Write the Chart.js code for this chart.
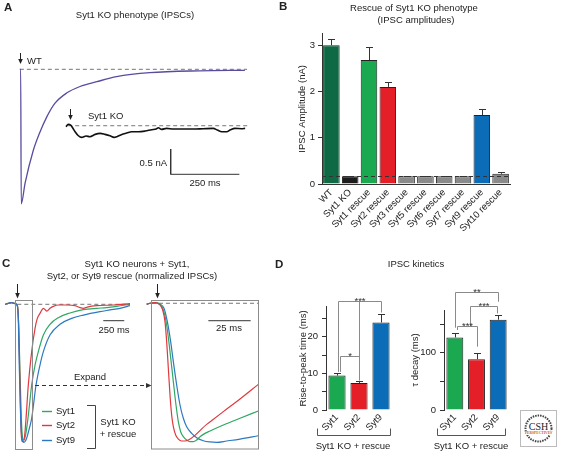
<!DOCTYPE html>
<html>
<head>
<meta charset="utf-8">
<script src="https://cdn.jsdelivr.net/npm/chart.js@4.4.1/dist/chart.umd.min.js"></script>
<style>
  body { margin: 0; background: #fff; }
  #fig { position: relative; width: 561px; height: 452px; overflow: hidden;
         font-family: "Liberation Sans", Arial, sans-serif; color: #222; }
  canvas { position: absolute; }
  .t { position: absolute; font-size: 9.5px; white-space: nowrap; line-height: 1; transform: translate(-50%, -50%); }
  .l { position: absolute; font-size: 9.5px; white-space: nowrap; line-height: 1; transform: translateY(-50%); }
  .r { position: absolute; font-size: 9.5px; white-space: nowrap; line-height: 1; transform: translate(-100%, -50%); }
  .p { position: absolute; font-size: 11.5px; font-weight: bold; line-height: 1; transform: translateY(-50%); }
  svg { position: absolute; left: 0; top: 0; }
</style>
</head>
<body>
<div id="fig">
  <canvas id="cA" width="245" height="175" style="left:10px;top:40px"></canvas>
  <canvas id="cB" width="240" height="207" style="left:280px;top:25px"></canvas>
  <canvas id="cC1" width="140" height="170" style="left:0px;top:280px"></canvas>
  <canvas id="cC2" width="125" height="167" style="left:140px;top:285px"></canvas>
  <canvas id="cD1" width="105" height="150" style="left:290px;top:285px"></canvas>
  <canvas id="cD2" width="107" height="150" style="left:405px;top:285px"></canvas>

  <svg width="561" height="452">
    <g fill="#222" stroke="#222" stroke-width="1">
      <line x1="20.5" y1="53" x2="20.5" y2="60"/><path d="M18.2,59 L22.8,59 L20.5,64 Z" stroke="none"/>
      <line x1="70.5" y1="109" x2="70.5" y2="116"/><path d="M68.2,115 L72.8,115 L70.5,120 Z" stroke="none"/>
      <line x1="17.5" y1="284" x2="17.5" y2="294"/><path d="M15.2,293 L19.8,293 L17.5,298.5 Z" stroke="none"/>
      <line x1="157.5" y1="284" x2="157.5" y2="294"/><path d="M155.2,293 L159.8,293 L157.5,298.5 Z" stroke="none"/>
    </g>
    <rect x="15.5" y="300.5" width="17" height="149" fill="none" stroke="#8c8c8c"/>
    <rect x="151.5" y="300.5" width="107" height="148.5" fill="none" stroke="#8c8c8c"/>
    <line x1="35" y1="385.5" x2="147" y2="385.5" stroke="#333" stroke-dasharray="4,3"/>
    <path d="M146,383 L151.5,385.5 L146,388 Z" fill="#333"/>
    <line x1="42" y1="411.5" x2="52" y2="411.5" stroke="#2fa862" stroke-width="1.4"/>
    <line x1="42" y1="425.5" x2="52" y2="425.5" stroke="#e0383e" stroke-width="1.4"/>
    <line x1="42" y1="440.5" x2="52" y2="440.5" stroke="#2c79c2" stroke-width="1.4"/>
    <path d="M87,405.5 H95.5 V448.5 H87" fill="none" stroke="#444"/>
    <path d="M317.5,428.5 V435.5 H390.5 V428.5" fill="none" stroke="#555"/>
    <path d="M437.5,428.5 V435.5 H505.5 V428.5" fill="none" stroke="#555"/>
    <g transform="translate(520,410)">
      <rect x="0.5" y="0.5" width="36" height="36" fill="#fff" stroke="#bbb"/>
      <circle cx="18.5" cy="18.5" r="13" fill="none" stroke="#444" stroke-width="2" stroke-dasharray="1.5,1"/>
      <text x="18.5" y="19.5" font-family="Liberation Serif" font-size="10" text-anchor="middle" fill="#222">CSH</text>
      <rect x="5" y="21" width="27" height="4" fill="#fff"/>
      <text x="18.5" y="24.3" font-family="Liberation Serif" font-size="3.6" font-weight="bold" text-anchor="middle" fill="#c0622a">PERSPECTIVES</text>
    </g>
  </svg>

  <div class="p" style="left:4px;top:8px">A</div>
  <div class="t" style="left:135px;top:15px">Syt1 KO phenotype (IPSCs)</div>
  <div class="l" style="left:27px;top:61px">WT</div>
  <div class="l" style="left:88px;top:116px">Syt1 KO</div>
  <div class="r" style="left:167px;top:163px">0.5 nA</div>
  <div class="t" style="left:205px;top:183px">250 ms</div>

  <div class="p" style="left:279px;top:7px">B</div>
  <div class="t" style="left:414px;top:8px">Rescue of Syt1 KO phenotype</div>
  <div class="t" style="left:416px;top:19.5px">(IPSC amplitudes)</div>

  <div class="p" style="left:2px;top:264px">C</div>
  <div class="t" style="left:137px;top:264px">Syt1 KO neurons + Syt1,</div>
  <div class="t" style="left:132px;top:276px">Syt2, or Syt9 rescue (normalized IPSCs)</div>
  <div class="t" style="left:114px;top:330px">250 ms</div>
  <div class="t" style="left:229px;top:328px">25 ms</div>
  <div class="t" style="left:90px;top:377px">Expand</div>
  <div class="l" style="left:56px;top:411px">Syt1</div>
  <div class="l" style="left:56px;top:425px">Syt2</div>
  <div class="l" style="left:56px;top:440px">Syt9</div>
  <div class="t" style="left:118px;top:422px">Syt1 KO</div>
  <div class="t" style="left:118px;top:434px">+ rescue</div>

  <div class="p" style="left:275px;top:265px">D</div>
  <div class="t" style="left:416px;top:264px">IPSC kinetics</div>
  <div class="t" style="left:353px;top:446px">Syt1 KO + rescue</div>
  <div class="t" style="left:471px;top:446px">Syt1 KO + rescue</div>
</div>

<script>
// ---- Panel A: example IPSC traces (ms, nA) ----
const wtTime = [-3, 0, 2, 16, 46, 68, 95, 125, 167, 216, 277, 349, 470, 650, 816];
const wtCurrent = [0, 0, -2.66, -2.25, -1.6, -1.27, -0.94, -0.67, -0.47, -0.34, -0.245, -0.146, -0.067, -0.03, -0.02];
const koTime = [165, 173, 182, 189, 198, 210, 222, 238, 252, 271, 289, 307, 325, 340, 352, 368, 386, 404, 428, 453,
  477, 493, 501, 513, 531, 556, 592, 628, 665, 701, 716, 732, 750, 764, 780, 804, 817];
const koCurrent = [-0.02, 0.026, 0.013, -0.04, -0.119, -0.198, -0.231, -0.204, -0.217, -0.171, -0.152, -0.171, -0.198,
  -0.231, -0.211, -0.171, -0.145, -0.119, -0.119, -0.105, -0.079, -0.066, -0.04, -0.072, -0.053, -0.066, -0.066,
  -0.066, -0.059, -0.053, -0.086, -0.119, -0.119, -0.079, -0.053, -0.059, -0.053];

// ---- Panel B: IPSC amplitudes (nA) ----
const bLabels = ["WT", "Syt1 KO", "Syt1 rescue", "Syt2 rescue", "Syt3 rescue", "Syt5 rescue",
  "Syt6 rescue", "Syt7 rescue", "Syt9 rescue", "Syt10 rescue"];
const bAmp = [3.0, 0.17, 2.68, 2.1, 0.17, 0.17, 0.17, 0.17, 1.49, 0.22];
const bErr = [0.13, 0.01, 0.29, 0.11, 0.01, 0.01, 0.01, 0.01, 0.13, 0.035];
const koLevel = 0.17;

// ---- Panel C: normalized IPSCs, full view (ms) ----
const syt1Time = [-146, -107, -67, -27, 0, 16, 32, 48, 64, 80, 99, 127, 171, 211, 250, 310, 389, 488, 627, 786, 944, 1063, 1182, 1341];
const syt1Norm = [0, 0.007, 0.012, 0.005, -0.01, -0.15, -0.489, -0.828, -0.973, -0.985, -0.949, -0.828, -0.586, -0.441,
  -0.344, -0.223, -0.145, -0.097, -0.063, -0.039, -0.029, -0.024, -0.015, 0];
const syt2Time = [-146, -107, -67, -27, 0, 16, 32, 44, 56, 72, 88, 104, 131, 171, 211, 238, 270, 310, 350, 389,
  429, 488, 587, 687, 746, 786, 833, 944, 1143, 1341];
const syt2Norm = [0, 0.007, 0.012, 0.005, -0.005, -0.15, -0.586, -0.901, -0.993, -0.998, -0.949, -0.828, -0.586, -0.344,
  -0.175, -0.102, -0.066, -0.029, -0.049, -0.029, -0.015, -0.005, -0.005, -0.01, -0.024, -0.029, -0.02, -0.01, -0.005, 0.005];
const syt9Time = [-146, -107, -67, -27, 0, 12, 24, 40, 56, 80, 111, 143, 171, 223, 270, 310, 389, 508, 647, 786, 984, 1103, 1222, 1341];
const syt9Norm = [0, 0.007, 0.012, 0.005, -0.01, -0.102, -0.465, -0.828, -0.973, -1.002, -0.973, -0.901, -0.828, -0.586,
  -0.441, -0.344, -0.223, -0.145, -0.102, -0.078, -0.053, -0.041, -0.029, -0.01];

// ---- Panel C: expanded view (ms) ----
const syt1FastTime = [-3.15, -1.18, 1.77, 4.73, 6.7, 8.67, 10.64, 12.61, 14.18, 15.56, 16.94, 18.52, 20.49, 22.46, 24.43,
  26.4, 28.37, 31.33, 34.28, 42.16, 52.0, 62.84];
const syt1FastNorm = [-0.007, 0, 0.005, -0.007, -0.048, -0.157, -0.349, -0.566, -0.735, -0.855, -0.928, -0.964, -0.988,
  -1.0, -1.0, -0.988, -0.964, -0.94, -0.923, -0.88, -0.831, -0.778];
const syt2FastTime = [-3.15, -1.18, 1.77, 4.33, 6.3, 7.68, 8.67, 9.65, 10.64, 11.62, 12.61, 13.99, 15.56, 17.53, 19.5,
  32.31, 42.16, 52.0, 62.84];
const syt2FastNorm = [-0.007, 0, 0.005, -0.007, -0.048, -0.133, -0.277, -0.47, -0.663, -0.807, -0.892, -0.952, -0.981,
  -0.995, -0.995, -0.875, -0.783, -0.692, -0.586];
const syt9FastTime = [-3.15, -1.18, 1.77, 4.73, 7.09, 9.06, 11.03, 12.61, 14.58, 16.55, 18.52, 20.49, 23.44, 26.4, 30.34,
  34.28, 38.22, 44.13, 52.0, 62.84];
const syt9FastNorm = [-0.007, 0, 0.005, -0.007, -0.036, -0.133, -0.277, -0.422, -0.59, -0.735, -0.831, -0.892, -0.94,
  -0.971, -0.993, -1.002, -1.005, -0.995, -0.981, -0.957];

// ---- Panel D: kinetics ----
const dLabels = ["Syt1", "Syt2", "Syt9"];
const riseTime = [9.4, 7.4, 23.9];
const riseErr = [0.6, 0.4, 2.2];
const tauDecay = [127, 89, 158];
const tauErr = [8, 11, 8];

Chart.defaults.font.family = '"Liberation Sans", Arial, sans-serif';
Chart.defaults.font.size = 9.5;
Chart.defaults.color = '#222';

const GREEN = '#2fa862', RED = '#e0383e', BLUE = '#2c79c2';
const zip = (xs, ys) => xs.map((x, i) => ({ x: x, y: ys[i] }));

function trace(data, color, axis, width) {
  return { data: data, borderColor: color, borderWidth: width || 1.2, pointRadius: 0, showLine: true,
    cubicInterpolationMode: 'monotone', yAxisID: axis || 'y' };
}
function dashed(data, axis) {
  return { data: data, borderColor: '#666', borderWidth: 0.9, borderDash: [4, 3], pointRadius: 0,
    showLine: true, yAxisID: axis || 'y' };
}
function bar(data, axis) {
  return { data: data, borderColor: '#333', borderWidth: 1, pointRadius: 0, showLine: true, yAxisID: axis || 'y' };
}

const baseOpts = {
  responsive: false, animation: false, events: [],
  plugins: { legend: { display: false }, tooltip: { enabled: false } }
};

// Panel A
const barA = { t: 546, i: -2.075, ms: 250, nA: 0.5 };
new Chart(document.getElementById('cA'), {
  type: 'scatter',
  data: { datasets: [
    trace(zip(wtTime, wtCurrent), '#5a4b9e', 'yWT', 1.3),
    trace(zip(koTime, koCurrent), '#111', 'yKO', 1.6),
    dashed([{ x: wtTime[0], y: 0 }, { x: wtTime[wtTime.length - 1] + 8, y: 0 }], 'yWT'),
    dashed([{ x: koTime[0] + 8, y: 0 }, { x: koTime[koTime.length - 1] + 8, y: 0 }], 'yKO'),
    bar([{ x: barA.t, y: barA.i + barA.nA }, { x: barA.t, y: barA.i }, { x: barA.t + barA.ms, y: barA.i }], 'yWT')
  ] },
  options: Object.assign({}, baseOpts, {
    scales: {
      x: { type: 'linear', display: false, min: -38.9, max: 852.9 },
      yWT: { type: 'linear', display: false, min: -2.879, max: 0.579 },
      yKO: { type: 'linear', display: false, min: -1.764, max: 1.694 }
    }
  })
});

// Panel C, full traces
new Chart(document.getElementById('cC1'), {
  type: 'scatter',
  data: { datasets: [
    trace(zip(syt9Time, syt9Norm), BLUE),
    trace(zip(syt2Time, syt2Norm), RED),
    trace(zip(syt1Time, syt1Norm), GREEN),
    dashed([{ x: 0, y: 0 }, { x: 1341, y: 0 }]),
    bar([{ x: 1023, y: -0.119 }, { x: 1273, y: -0.119 }])
  ] },
  options: Object.assign({}, baseOpts, {
    scales: {
      x: { type: 'linear', display: false, min: -205.9, max: 1460.1 },
      y: { type: 'linear', display: false, min: -1.058, max: 0.1765 }
    }
  })
});

// Panel C, expanded traces
new Chart(document.getElementById('cC2'), {
  type: 'scatter',
  data: { datasets: [
    trace(zip(syt2FastTime, syt2FastNorm), RED),
    trace(zip(syt1FastTime, syt1FastNorm), GREEN),
    trace(zip(syt9FastTime, syt9FastNorm), BLUE),
    dashed([{ x: 0, y: 0 }, { x: 62.8, y: 0 }]),
    bar([{ x: 33.3, y: -0.126 }, { x: 58.3, y: -0.126 }])
  ] },
  options: Object.assign({}, baseOpts, {
    scales: {
      x: { type: 'linear', display: false, min: -7.09, max: 66.78 },
      y: { type: 'linear', display: false, min: -1.0746, max: 0.132 }
    }
  })
});

// error bars, drawn up from each bar
function errorBars(errs, cap) {
  return {
    id: 'errs',
    afterDatasetsDraw(chart) {
      const ctx = chart.ctx, y = chart.scales.y;
      const vals = chart.data.datasets[0].data;
      ctx.save();
      ctx.strokeStyle = '#333';
      ctx.lineWidth = 1;
      chart.getDatasetMeta(0).data.forEach((b, i) => {
        const top = Math.round(y.getPixelForValue(vals[i] + errs[i])) + 0.5;
        const x = Math.round(b.x) + 0.5;
        ctx.beginPath();
        ctx.moveTo(x, b.y);
        ctx.lineTo(x, top);
        ctx.moveTo(x - cap / 2, top);
        ctx.lineTo(x + cap / 2, top);
        ctx.stroke();
      });
      ctx.restore();
    }
  };
}

const refLine = {
  id: 'ref',
  afterDatasetsDraw(chart) {
    const { ctx, chartArea: a, scales: { y } } = chart;
    const py = Math.round(y.getPixelForValue(koLevel)) + 0.5;
    ctx.save();
    ctx.setLineDash([4, 3]);
    ctx.strokeStyle = '#333';
    ctx.lineWidth = 1;
    ctx.beginPath();
    ctx.moveTo(a.left, py);
    ctx.lineTo(a.right, py);
    ctx.stroke();
    ctx.restore();
  }
};

// significance brackets
function sigBrackets(list) {
  return {
    id: 'sig',
    afterDatasetsDraw(chart) {
      const ctx = chart.ctx, y = chart.scales.y;
      const bars = chart.getDatasetMeta(0).data;
      ctx.save();
      ctx.strokeStyle = '#8a8a8a';
      ctx.lineWidth = 1;
      ctx.fillStyle = '#333';
      ctx.font = '9.5px "Liberation Sans", Arial, sans-serif';
      ctx.textAlign = 'center';
      ctx.textBaseline = 'alphabetic';
      list.forEach(b => {
        const yt = Math.round(y.getPixelForValue(b.level)) + 0.5;
        const xs = b.legs.map(l => Math.round(bars[l.i].x + l.dx) + 0.5);
        const x0 = Math.min(...xs), x1 = Math.max(...xs);
        ctx.beginPath();
        ctx.moveTo(x0, yt);
        ctx.lineTo(x1, yt);
        b.legs.forEach((l, k) => {
          ctx.moveTo(xs[k], yt);
          ctx.lineTo(xs[k], y.getPixelForValue(l.to));
        });
        ctx.stroke();
        ctx.fillText(b.label, (x0 + x1) / 2, yt + 2.5);
      });
      ctx.restore();
    }
  };
}

// Panel B
const bColors = ['#0e6a45', '#1c1c1c', '#1aa951', '#e41f27', '#8a8a8a', '#8a8a8a', '#8a8a8a', '#8a8a8a', '#0b6db7', '#8a8a8a'];
new Chart(document.getElementById('cB'), {
  type: 'bar',
  data: { labels: bLabels, datasets: [{ data: bAmp, backgroundColor: bColors, borderColor: '#222', borderWidth: 1,
    barPercentage: 0.88, categoryPercentage: 1 }] },
  options: Object.assign({}, baseOpts, {
    layout: { padding: { top: 4, right: 10, left: 0, bottom: 0 } },
    scales: {
      x: { grid: { display: false, drawTicks: false }, border: { color: '#333' },
        ticks: { minRotation: 45, maxRotation: 45, autoSkip: false, padding: 3 },
        afterFit: s => { s.height = 48; } },
      y: { min: 0, max: 3.25, grid: { drawOnChartArea: false, tickLength: 4, color: '#333' }, border: { color: '#333' },
        ticks: { stepSize: 1, includeBounds: false, padding: 3 },
        title: { display: true, text: 'IPSC Amplitude (nA)', padding: { top: 17 } },
        afterFit: s => { s.width = 42; } }
    }
  }),
  plugins: [errorBars(bErr, 7), refLine]
});

// Panel D
const dColors = ['#1aa951', '#e41f27', '#0b6db7'];
function kineticsChart(id, values, errs, opts, brackets) {
  return new Chart(document.getElementById(id), {
    type: 'bar',
    data: { labels: dLabels, datasets: [{ data: values, backgroundColor: dColors, borderColor: '#222', borderWidth: 1,
      barPercentage: 0.78, categoryPercentage: 1 }] },
    options: Object.assign({}, baseOpts, {
      layout: { padding: { top: opts.top, right: 3, left: 0, bottom: 0 } },
      scales: {
        x: { grid: { display: false, drawTicks: false }, border: { display: false },
          ticks: { minRotation: 45, maxRotation: 45, autoSkip: false, padding: 2 },
          afterFit: s => { s.height = 25; } },
        y: { min: 0, max: opts.max, grid: { drawOnChartArea: false, tickLength: 4, color: '#333' },
          border: { color: '#333' },
          ticks: { stepSize: opts.step, includeBounds: false, padding: 4,
            callback: v => (v % opts.labelEvery === 0 ? v : '') },
          title: { display: true, text: opts.title, padding: { top: opts.titlePad } },
          afterFit: s => { s.width = opts.axisW; } }
      }
    }),
    plugins: [errorBars(errs, 7), sigBrackets(brackets)]
  });
}

kineticsChart('cD1', riseTime, riseErr,
  { top: 21.7, max: 28.2, step: 5, labelEvery: 10, title: 'Rise-to-peak time (ms)', titlePad: 7.3, axisW: 36 },
  [
    { label: '***', level: 29.8, legs: [{ i: 0, to: 10.4, dx: 1 }, { i: 1, to: 8.1, dx: 0 }, { i: 2, to: 26.6, dx: 0 }] },
    { label: '*', level: 14.7, legs: [{ i: 0, to: 10.4, dx: 3 }, { i: 1, to: 8.1, dx: 0 }] }
  ]);

kineticsChart('cD2', tauDecay, tauErr,
  { top: 25, max: 175, step: 25, labelEvery: 100, title: 'τ decay (ms)', titlePad: 4.3, axisW: 39 },
  [
    { label: '**', level: 206, legs: [{ i: 0, to: 144, dx: 0 }, { i: 2, to: 189.5, dx: 0 }] },
    { label: '***', level: 182.5, legs: [{ i: 1, to: 147.5, dx: -7 }, { i: 2, to: 169, dx: -1.5 }] },
    { label: '***', level: 147.5, legs: [{ i: 0, to: 140, dx: 2 }, { i: 1, to: 110.8, dx: 0 }] }
  ]);
</script>
</body>
</html>
